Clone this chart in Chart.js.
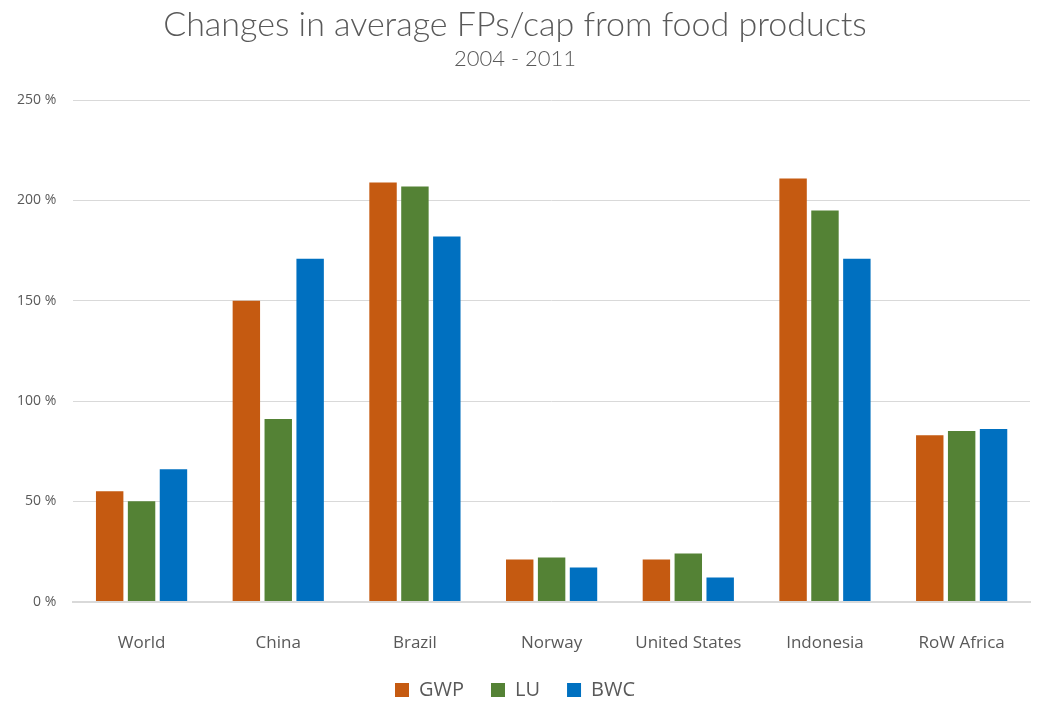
<!DOCTYPE html>
<html>
<head>
<meta charset="utf-8">
<script src="https://cdn.jsdelivr.net/npm/chart.js@4/dist/chart.umd.min.js"></script>
<style>
  html, body { margin: 0; padding: 0; background: #fff; }
  #wrap { width: 1040px; height: 706px; }
</style>
</head>
<body>
<div id="wrap"><canvas id="myChartBar"></canvas></div>
<script>
const regions = ['World', 'China', 'Brazil', 'Norway', 'United States', 'Indonesia', 'RoW Africa'];
const gwp = [55, 150, 209, 21, 21, 211, 83];
const lu = [50, 91, 207, 22, 24, 195, 85];
const bwc = [66, 171, 182, 17, 12, 171, 86];
const yTicks = [0, 50, 100, 150, 200, 250];

const grey = '#595959';

const datasets = [
  { label: 'GWP', data: gwp, backgroundColor: '#C55A11' },
  { label: 'LU', data: lu, backgroundColor: '#548235' },
  { label: 'BWC', data: bwc, backgroundColor: '#0070C0' }
];

new Chart(document.getElementById('myChartBar'), {
  type: 'bar',
  data: { labels: regions, datasets: datasets },
  options: {
    responsive: true,
    maintainAspectRatio: false,
    animation: false,
    datasets: {
      bar: { categoryPercentage: 0.7, barPercentage: 0.86 }
    },
    layout: { padding: { left: 0, right: 10, top: 5, bottom: -4 } },
    plugins: {
      title: {
        display: true,
        text: 'Changes in average FPs/cap from food products',
        color: grey,
        font: { family: 'Lato', size: 34, weight: 300 },
        padding: { top: 0, bottom: 0 }
      },
      subtitle: {
        display: true,
        text: '2004 - 2011',
        color: grey,
        font: { family: 'Lato', size: 22, weight: 300 },
        padding: { bottom: 28 }
      },
      legend: {
        position: 'bottom',
        labels: {
          color: grey,
          font: { family: 'Open Sans', size: 20 },
          boxWidth: 14,
          boxHeight: 14,
          padding: 27
        }
      },
      tooltip: { enabled: false }
    },
    scales: {
      x: {
        // labels sit well below the axis line; spacing comes from an invisible tick mark
        grid: { display: false, drawTicks: true, tickLength: 31, tickColor: 'rgba(0,0,0,0)' },
        border: { color: '#d9d9d9', width: 2 },
        ticks: {
          color: grey,
          font: { family: 'Open Sans', size: 17 },
          padding: 0
        }
      },
      y: {
        min: 0,
        max: 250,
        afterBuildTicks: axis => { axis.ticks = yTicks.map(v => ({ value: v })); },
        grid: { color: '#d9d9d9', drawTicks: false },
        border: { display: false },
        ticks: {
          color: grey,
          font: { family: 'Open Sans', size: 14 },
          padding: 17,
          callback: v => v + ' %'
        }
      }
    }
  }
});
</script>
</body>
</html>
